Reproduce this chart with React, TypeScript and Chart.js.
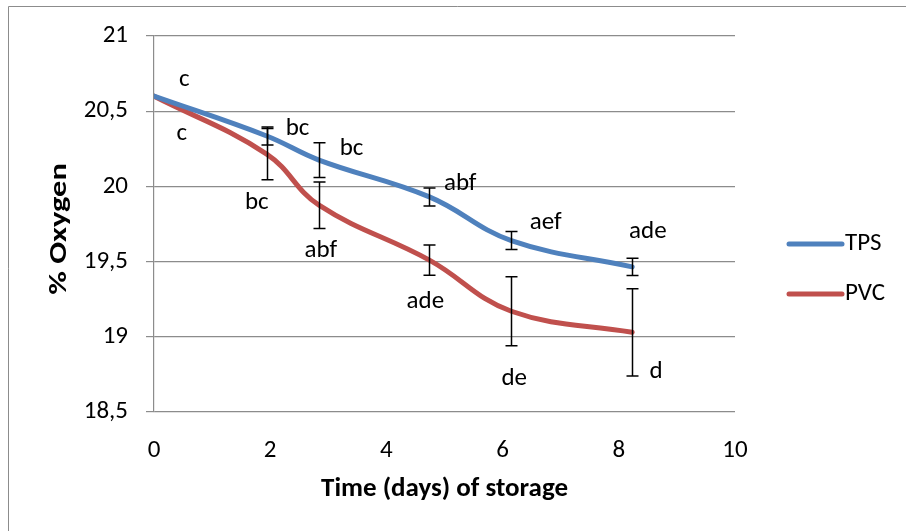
import React, { useEffect, useRef } from "react";
import { Chart, registerables } from "chart.js";

Chart.register(...registerables);

const days = [0, 1.94, 2.84, 4.74, 6.15, 8.23];
const tpsOxygen = [20.6, 20.335, 20.175, 19.93, 19.64, 19.465];
const pvcOxygen = [20.6, 20.215, 19.875, 19.51, 19.17, 19.03];
const tpsError = [0, 0.06, 0.115, 0.06, 0.06, 0.058];
const pvcError = [0, 0.17, 0.155, 0.1, 0.23, 0.29];
const tpsLetters = ["c", "bc", "bc", "abf", "aef", "ade"];
const pvcLetters = ["c", "bc", "abf", "ade", "de", "d"];
const tpsLetterX = [0.52, 2.47, 3.4, 5.27, 6.74, 8.5];
const tpsLetterY = [20.71, 20.38, 20.25, 20.02, 19.76, 19.7];
const pvcLetterX = [0.48, 1.77, 2.87, 4.67, 6.2, 8.64];
const pvcLetterY = [20.35, 19.89, 19.57, 19.23, 18.72, 18.77];
const seriesNames = ["TPS", "PVC"];
const seriesColors = ["#4F81BD", "#C0504D"];
const xTitle = "Time (days) of storage";
const yTitle = "% Oxygen";

const FONT = "Calibri, Carlito, Lato, sans-serif";

const errorBars = [tpsError, pvcError];
const seriesValues = [tpsOxygen, pvcOxygen];
const letterTexts = [tpsLetters, pvcLetters];
const letterXs = [tpsLetterX, pvcLetterX];
const letterYs = [tpsLetterY, pvcLetterY];

const decorPlugin = {
  id: "decor",
  beforeDraw(chart: any) {
    const ctx = chart.ctx;
    ctx.save();
    ctx.fillStyle = "#ffffff";
    ctx.fillRect(0, 0, chart.width, chart.height);
    ctx.strokeStyle = "#8c8c8c";
    ctx.lineWidth = 1;
    ctx.beginPath();
    ctx.moveTo(8.5, chart.height);
    ctx.lineTo(8.5, 6.5);
    ctx.lineTo(chart.width, 6.5);
    ctx.stroke();
    ctx.restore();
  },
  afterDatasetsDraw(chart: any) {
    const ctx = chart.ctx;
    const xs = chart.scales.x;
    const ys = chart.scales.y;
    const area = chart.chartArea;
    ctx.save();
    // error bars
    ctx.strokeStyle = "#000000";
    ctx.lineWidth = 1.5;
    for (let s = 0; s < 2; s++) {
      const vals = seriesValues[s];
      const errs = errorBars[s];
      for (let j = 0; j < days.length; j++) {
        if (!errs[j]) continue;
        const px = Math.round(xs.getPixelForValue(days[j])) + 0.5;
        const top = ys.getPixelForValue(vals[j] + errs[j]);
        const bot = ys.getPixelForValue(vals[j] - errs[j]);
        ctx.beginPath();
        ctx.moveTo(px, top);
        ctx.lineTo(px, bot);
        ctx.moveTo(px - 6, top);
        ctx.lineTo(px + 6, top);
        ctx.moveTo(px - 6, bot);
        ctx.lineTo(px + 6, bot);
        ctx.stroke();
      }
    }
    // letters
    ctx.fillStyle = "#000000";
    ctx.font = `25px ${FONT}`;
    ctx.textAlign = "center";
    ctx.textBaseline = "middle";
    for (let s = 0; s < 2; s++) {
      for (let j = 0; j < letterTexts[s].length; j++) {
        ctx.fillText(
          letterTexts[s][j],
          xs.getPixelForValue(letterXs[s][j]),
          ys.getPixelForValue(letterYs[s][j])
        );
      }
    }
    // y axis title (stretched along its length like the reference)
    ctx.save();
    ctx.translate(60, (area.top + area.bottom) / 2 + 5);
    ctx.rotate(-Math.PI / 2);
    ctx.scale(1.3, 1);
    ctx.font = `bold 25px ${FONT}`;
    ctx.fillText(yTitle, 0, 0);
    ctx.restore();
    // legend
    const lx = area.right + 54;
    const midY = (area.top + area.bottom) / 2;
    ctx.lineCap = "round";
    ctx.lineWidth = 5;
    ctx.textAlign = "left";
    ctx.font = `25px ${FONT}`;
    for (let s = 0; s < 2; s++) {
      const y = midY + 20 + s * 50;
      ctx.strokeStyle = seriesColors[s];
      ctx.beginPath();
      ctx.moveTo(lx, y);
      ctx.lineTo(lx + 53, y);
      ctx.stroke();
      ctx.fillStyle = "#000000";
      ctx.fillText(seriesNames[s], lx + 56, y);
    }
    ctx.restore();
  },
};

export default function App() {
  const ref = useRef<HTMLCanvasElement | null>(null);
  useEffect(() => {
    if (!ref.current) return;
    const mk = (vals: number[]) => days.map((d, i) => ({ x: d, y: vals[i] }));
    const chart = new Chart(ref.current, {
      type: "line",
      data: {
        datasets: [
          {
            label: seriesNames[0],
            data: mk(tpsOxygen),
            borderColor: seriesColors[0],
            borderWidth: 5,
            pointRadius: 0,
            tension: 0.4,
            borderCapStyle: "round",
          },
          {
            label: seriesNames[1],
            data: mk(pvcOxygen),
            borderColor: seriesColors[1],
            borderWidth: 5,
            pointRadius: 0,
            tension: 0.4,
            borderCapStyle: "round",
          },
        ],
      },
      options: {
        animation: false,
        responsive: false,
        maintainAspectRatio: false,
        layout: { padding: { left: 0, top: 36, right: 171, bottom: 0 } },
        plugins: { legend: { display: false }, tooltip: { enabled: false } },
        scales: {
          x: {
            type: "linear",
            min: 0,
            max: 10,
            ticks: {
              stepSize: 2,
              padding: 24,
              color: "#000",
              font: { family: FONT, size: 25 },
            },
            grid: { display: false, drawTicks: false },
            border: { display: false },
            title: {
              display: true,
              text: xTitle,
              color: "#000",
              font: { family: FONT, size: 27, weight: "bold" },
              padding: { top: 0, bottom: 26 },
            },
            afterFit(scale: any) {
              scale.height = 119;
            },
          },
          y: {
            min: 18.5,
            max: 21,
            ticks: {
              stepSize: 0.5,
              padding: 18,
              color: "#000",
              font: { family: FONT, size: 25 },
              callback: (v: any) => String(v).replace(".", ","),
            },
            grid: { color: "#8c8c8c", lineWidth: 1.2, tickLength: 8, drawTicks: true },
            border: { display: true, color: "#8c8c8c", width: 1.2 },
            title: { display: false, text: yTitle },
            afterFit(scale: any) {
              scale.width = 154;
            },
          },
        },
      },
      plugins: [decorPlugin],
    } as any);
    return () => chart.destroy();
  }, []);
  return (
    <div style={{ position: "fixed", left: 0, top: 0, width: 906, height: 531 }}>
      <canvas ref={ref} width={906} height={531} style={{ width: 906, height: 531 }} />
    </div>
  );
}
